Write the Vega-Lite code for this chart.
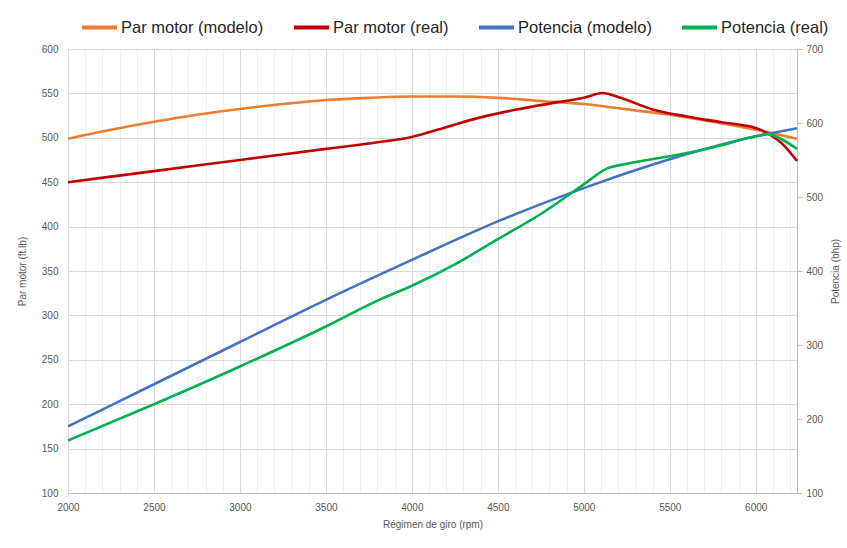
{
  "$schema": "https://vega.github.io/schema/vega-lite/v6.json",
  "width": 729,
  "height": 444,
  "autosize": {"type": "none"},
  "padding": {"left": 68, "top": 49, "right": 50, "bottom": 55},
  "background": "white",
  "config": {
    "view": {"stroke": "#d9d9d9"},
    "axis": {"labelFont": "Liberation Sans", "titleFont": "Liberation Sans", "labelColor": "#595959", "titleColor": "#595959", "labelFontSize": 10, "titleFontSize": 10, "titleFontWeight": "normal"}
  },
  "data": {"values": [
    {"rpm": 2000, "serie": "Par motor (modelo)", "mag": "par", "valor": 499},
    {"rpm": 2250, "serie": "Par motor (modelo)", "mag": "par", "valor": 509},
    {"rpm": 2500, "serie": "Par motor (modelo)", "mag": "par", "valor": 518},
    {"rpm": 2750, "serie": "Par motor (modelo)", "mag": "par", "valor": 526},
    {"rpm": 3000, "serie": "Par motor (modelo)", "mag": "par", "valor": 532.5},
    {"rpm": 3250, "serie": "Par motor (modelo)", "mag": "par", "valor": 538},
    {"rpm": 3500, "serie": "Par motor (modelo)", "mag": "par", "valor": 542.5},
    {"rpm": 3750, "serie": "Par motor (modelo)", "mag": "par", "valor": 545},
    {"rpm": 4000, "serie": "Par motor (modelo)", "mag": "par", "valor": 546.5},
    {"rpm": 4250, "serie": "Par motor (modelo)", "mag": "par", "valor": 546.5},
    {"rpm": 4500, "serie": "Par motor (modelo)", "mag": "par", "valor": 545},
    {"rpm": 4750, "serie": "Par motor (modelo)", "mag": "par", "valor": 541.5},
    {"rpm": 5000, "serie": "Par motor (modelo)", "mag": "par", "valor": 538},
    {"rpm": 5250, "serie": "Par motor (modelo)", "mag": "par", "valor": 532},
    {"rpm": 5500, "serie": "Par motor (modelo)", "mag": "par", "valor": 526},
    {"rpm": 5750, "serie": "Par motor (modelo)", "mag": "par", "valor": 518},
    {"rpm": 6000, "serie": "Par motor (modelo)", "mag": "par", "valor": 509},
    {"rpm": 6240, "serie": "Par motor (modelo)", "mag": "par", "valor": 499},

    {"rpm": 2000, "serie": "Par motor (real)", "mag": "par", "valor": 450},
    {"rpm": 2500, "serie": "Par motor (real)", "mag": "par", "valor": 462.5},
    {"rpm": 3000, "serie": "Par motor (real)", "mag": "par", "valor": 475},
    {"rpm": 3500, "serie": "Par motor (real)", "mag": "par", "valor": 487.5},
    {"rpm": 3800, "serie": "Par motor (real)", "mag": "par", "valor": 495},
    {"rpm": 4000, "serie": "Par motor (real)", "mag": "par", "valor": 501},
    {"rpm": 4200, "serie": "Par motor (real)", "mag": "par", "valor": 512},
    {"rpm": 4400, "serie": "Par motor (real)", "mag": "par", "valor": 523},
    {"rpm": 4600, "serie": "Par motor (real)", "mag": "par", "valor": 531.5},
    {"rpm": 4800, "serie": "Par motor (real)", "mag": "par", "valor": 538.5},
    {"rpm": 5000, "serie": "Par motor (real)", "mag": "par", "valor": 545},
    {"rpm": 5110, "serie": "Par motor (real)", "mag": "par", "valor": 550.5},
    {"rpm": 5200, "serie": "Par motor (real)", "mag": "par", "valor": 546},
    {"rpm": 5400, "serie": "Par motor (real)", "mag": "par", "valor": 532},
    {"rpm": 5600, "serie": "Par motor (real)", "mag": "par", "valor": 524},
    {"rpm": 5800, "serie": "Par motor (real)", "mag": "par", "valor": 517.5},
    {"rpm": 6000, "serie": "Par motor (real)", "mag": "par", "valor": 511},
    {"rpm": 6070, "serie": "Par motor (real)", "mag": "par", "valor": 505},
    {"rpm": 6150, "serie": "Par motor (real)", "mag": "par", "valor": 494},
    {"rpm": 6240, "serie": "Par motor (real)", "mag": "par", "valor": 474},

    {"rpm": 2000, "serie": "Potencia (modelo)", "mag": "pot", "valor": 190},
    {"rpm": 2500, "serie": "Potencia (modelo)", "mag": "pot", "valor": 247},
    {"rpm": 3000, "serie": "Potencia (modelo)", "mag": "pot", "valor": 304},
    {"rpm": 3500, "serie": "Potencia (modelo)", "mag": "pot", "valor": 361},
    {"rpm": 4000, "serie": "Potencia (modelo)", "mag": "pot", "valor": 415},
    {"rpm": 4500, "serie": "Potencia (modelo)", "mag": "pot", "valor": 467},
    {"rpm": 5000, "serie": "Potencia (modelo)", "mag": "pot", "valor": 512},
    {"rpm": 5500, "serie": "Potencia (modelo)", "mag": "pot", "valor": 551},
    {"rpm": 6000, "serie": "Potencia (modelo)", "mag": "pot", "valor": 582},
    {"rpm": 6240, "serie": "Potencia (modelo)", "mag": "pot", "valor": 593},

    {"rpm": 2000, "serie": "Potencia (real)", "mag": "pot", "valor": 171},
    {"rpm": 2500, "serie": "Potencia (real)", "mag": "pot", "valor": 220},
    {"rpm": 3000, "serie": "Potencia (real)", "mag": "pot", "valor": 271},
    {"rpm": 3500, "serie": "Potencia (real)", "mag": "pot", "valor": 325},
    {"rpm": 3800, "serie": "Potencia (real)", "mag": "pot", "valor": 360},
    {"rpm": 4000, "serie": "Potencia (real)", "mag": "pot", "valor": 380},
    {"rpm": 4250, "serie": "Potencia (real)", "mag": "pot", "valor": 409},
    {"rpm": 4500, "serie": "Potencia (real)", "mag": "pot", "valor": 443},
    {"rpm": 4750, "serie": "Potencia (real)", "mag": "pot", "valor": 477},
    {"rpm": 5000, "serie": "Potencia (real)", "mag": "pot", "valor": 517},
    {"rpm": 5130, "serie": "Potencia (real)", "mag": "pot", "valor": 538},
    {"rpm": 5250, "serie": "Potencia (real)", "mag": "pot", "valor": 545},
    {"rpm": 5500, "serie": "Potencia (real)", "mag": "pot", "valor": 555},
    {"rpm": 5750, "serie": "Potencia (real)", "mag": "pot", "valor": 567},
    {"rpm": 6000, "serie": "Potencia (real)", "mag": "pot", "valor": 582},
    {"rpm": 6070, "serie": "Potencia (real)", "mag": "pot", "valor": 585},
    {"rpm": 6150, "serie": "Potencia (real)", "mag": "pot", "valor": 578},
    {"rpm": 6240, "serie": "Potencia (real)", "mag": "pot", "valor": 565}
  ]},
  "encoding": {
    "x": {
      "field": "rpm", "type": "quantitative",
      "scale": {"domain": [2000, 6240], "nice": false, "zero": false},
      "axis": {
        "title": "Régimen  de giro (rpm)",
        "values": [2000,2100,2200,2300,2400,2500,2600,2700,2800,2900,3000,3100,3200,3300,3400,3500,3600,3700,3800,3900,4000,4100,4200,4300,4400,4500,4600,4700,4800,4900,5000,5100,5200,5300,5400,5500,5600,5700,5800,5900,6000,6100,6200],
        "format": "d",
        "labelExpr": "datum.value % 500 === 0 ? datum.label : ''",
        "labelFlush": false,
        "grid": true,
        "gridColor": {"condition": {"test": "datum.value % 500 === 0", "value": "#d9d9d9"}, "value": "#f0f0f0"},
        "ticks": false,
        "domainColor": "#bfbfbf",
        "labelPadding": 9,
        "titlePadding": 7
      }
    },
    "color": {
      "field": "serie", "type": "nominal",
      "scale": {"domain": ["Par motor (modelo)", "Par motor (real)", "Potencia (modelo)", "Potencia (real)"], "range": ["#ED7D31", "#C00000", "#4472C4", "#00B050"]},
      "legend": {
        "title": null, "orient": "none", "direction": "horizontal",
        "legendX": 12, "legendY": -41,
        "symbolType": "stroke", "symbolSize": 1225, "symbolStrokeWidth": 4,
        "labelFont": "Liberation Sans", "labelFontSize": 16.5, "labelColor": "#262626",
        "labelOffset": 2, "columnPadding": 22, "labelLimit": 300
      }
    }
  },
  "layer": [
    {
      "transform": [{"filter": "datum.mag === 'par'"}],
      "mark": {"type": "line", "interpolate": "monotone", "strokeWidth": 2.6},
      "encoding": {
        "y": {
          "field": "valor", "type": "quantitative",
          "scale": {"domain": [100, 600], "nice": false, "zero": false},
          "axis": {
            "title": "Par motor (ft.lb)",
            "values": [100,150,200,250,300,350,400,450,500,550,600],
            "grid": true, "gridColor": "#d9d9d9", "ticks": false, "domain": false,
            "labelPadding": 10, "titlePadding": 14
          }
        }
      }
    },
    {
      "transform": [{"filter": "datum.mag === 'pot'"}],
      "mark": {"type": "line", "interpolate": "monotone", "strokeWidth": 2.6},
      "encoding": {
        "y": {
          "field": "valor", "type": "quantitative",
          "scale": {"domain": [100, 700], "nice": false, "zero": false},
          "axis": {
            "title": "Potencia (bhp)", "orient": "right", "titleAngle": 270,
            "values": [100,200,300,400,500,600,700],
            "grid": false, "ticks": true, "tickSize": 5, "tickColor": "#bfbfbf",
            "domain": true, "domainColor": "#bfbfbf",
            "labelPadding": 4, "titlePadding": 18
          }
        }
      }
    }
  ],
  "resolve": {"scale": {"y": "independent"}}
}
